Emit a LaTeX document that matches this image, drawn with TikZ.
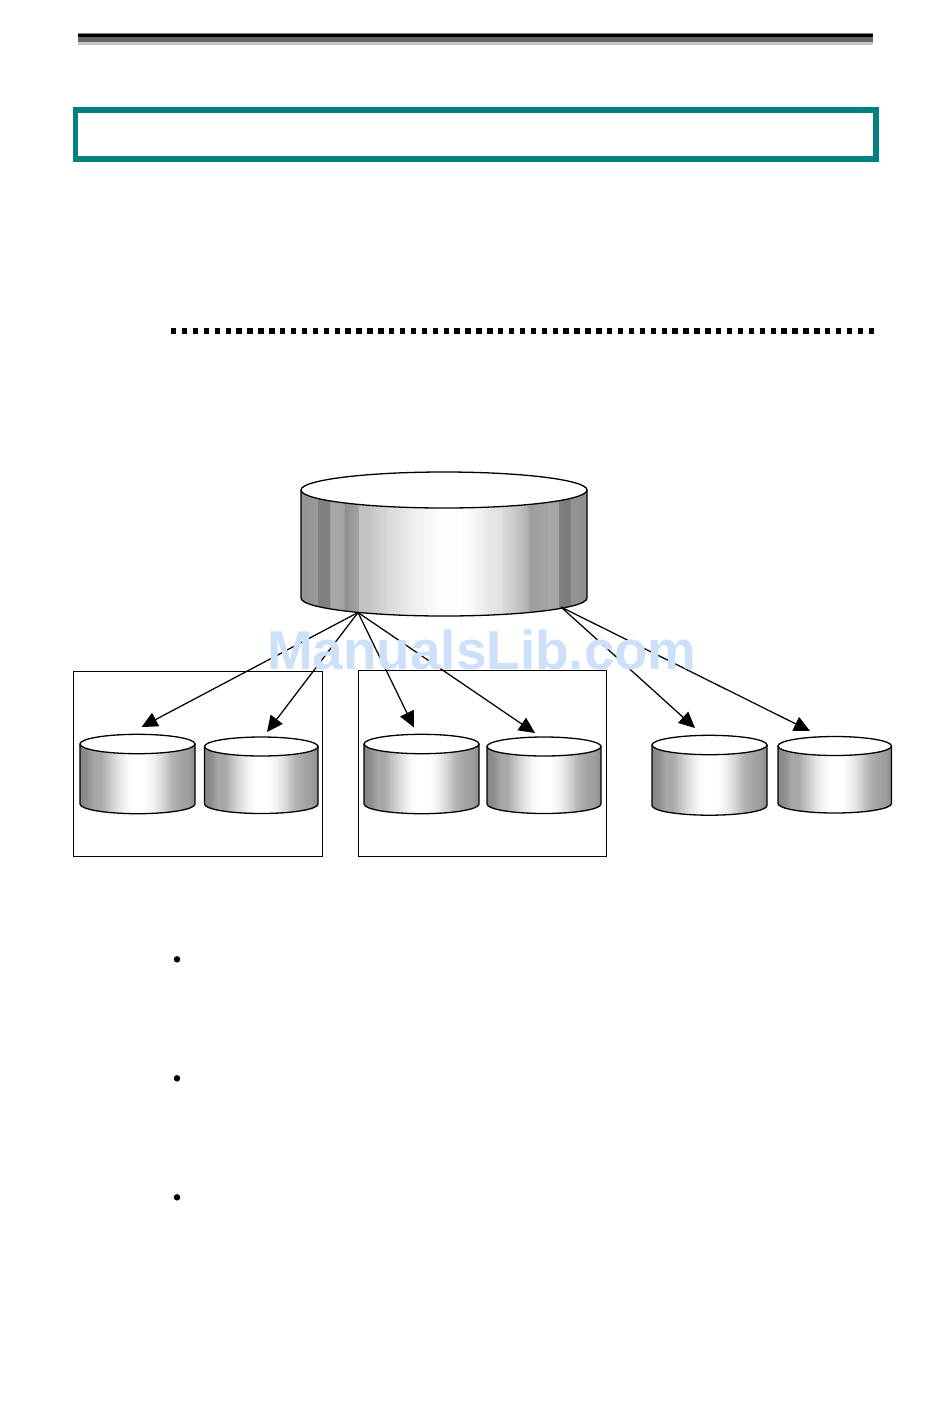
\documentclass[tikz,border=0pt]{standalone}
\usepackage{fontspec}
\setmainfont{Liberation Sans}
\usetikzlibrary{arrows.meta}
\definecolor{tealbox}{HTML}{008080}
\definecolor{wmark}{HTML}{CCE0FA}
\pgfdeclarehorizontalshading{bigband}{100bp}{
 color(0bp)=(black!42); color(25bp)=(black!42); color(27.8bp)=(black!40); color(27.9bp)=(black!50);
 color(30bp)=(black!50); color(30.1bp)=(black!34); color(32.5bp)=(black!36); color(32.6bp)=(black!44);
 color(35bp)=(black!36); color(35.1bp)=(black!24); color(37bp)=(black!24); color(37.1bp)=(black!22);
 color(40bp)=(black!16); color(40.1bp)=(black!14); color(42bp)=(black!12); color(45bp)=(black!6);
 color(49bp)=(black!1); color(53bp)=(black!0); color(55bp)=(black!3); color(58bp)=(black!10);
 color(60bp)=(black!12); color(60.1bp)=(black!14); color(62bp)=(black!20); color(64.5bp)=(black!30);
 color(65bp)=(black!38); color(68bp)=(black!36); color(68.1bp)=(black!34); color(70bp)=(black!36);
 color(70.1bp)=(black!50); color(72bp)=(black!52); color(72.1bp)=(black!42); color(75bp)=(black!44);
 color(100bp)=(black!44)}
\pgfdeclarehorizontalshading{smallband}{100bp}{
 color(0bp)=(black!48); color(25bp)=(black!48); color(28bp)=(black!44); color(31bp)=(black!34);
 color(34bp)=(black!34); color(37bp)=(black!24); color(41bp)=(black!12); color(45bp)=(black!3);
 color(48bp)=(black!0); color(53bp)=(black!0); color(57bp)=(black!6); color(61bp)=(black!16);
 color(65bp)=(black!30); color(69bp)=(black!36); color(72bp)=(black!38); color(75bp)=(black!46);
 color(100bp)=(black!46)}
\tikzset{
 hairbox/.style={draw=black,line width=1pt},
 cylbody/.style={draw=black,line width=1.3pt,line join=round},
 cyltop/.style={draw=black,line width=1.3pt,fill=white},
 link/.style={draw=black,line width=1.25pt,-{Triangle[length=16pt,width=15pt]}},
 bulletdot/.style={circle,fill=black,inner sep=0pt,minimum size=6.5pt},
 wmtext/.style={text=wmark,font=\bfseries\fontsize{54.8}{60}\selectfont,inner sep=0pt,anchor=base}
}
% name, left, right, top-ellipse centre y, side bottom y, ellipse ry, shading
\newcommand{\cylpart}[7]{%
 \pgfmathsetmacro{\crx}{(#3-#2)/2}%
 \pgfmathsetmacro{\ccx}{(#3+#2)/2}%
 \shadedraw[cylbody,shading=#7] (#2,#4) -- (#2,#5) arc[start angle=180,end angle=0,x radius=\crx,y radius=#6] -- (#3,#4) -- cycle;
 \draw[cyltop] (\ccx,#4) ellipse[x radius=\crx,y radius=#6];
 \coordinate (#1) at (\ccx,#4);
}
\begin{document}
\begin{tikzpicture}[x=1pt,y=-1pt]
\useasboundingbox (0,0) rectangle (950,1409);
\fill[white] (0,0) rectangle (950,1409);
% header rule
\fill[black!50] (78,33) rectangle (873,34);
\fill[black] (78,34) rectangle (873,36.5);
\fill[black!60] (78,36.5) rectangle (873,42);
\fill[black!22] (78,42) rectangle (873,45);
% title frame
\draw[tealbox,line width=5.8pt] (75.5,110.2) rectangle (876,158.8);
% dotted rule
\draw[black,line width=6pt,dash pattern=on 5.4pt off 5.5pt] (171,331) -- (875,331);
% group boxes
\draw[hairbox] (73.5,671.5) rectangle (322.5,856);
\draw[hairbox] (358.5,670.5) rectangle (606.5,856);
% cylinders
\cylpart{big}{301}{587}{490}{598}{18}{bigband}
\cylpart{c1}{80}{195}{744}{804}{9.7}{smallband}
\cylpart{c2}{204.5}{318}{746.5}{804}{9.5}{smallband}
\cylpart{c3}{364}{479}{744}{804}{9.7}{smallband}
\cylpart{c4}{487}{601}{746.5}{804}{9.5}{smallband}
\cylpart{c5}{652}{767}{745}{805.5}{9.7}{smallband}
\cylpart{c6}{778}{891.5}{746}{803.5}{9.5}{smallband}
% connectors
\coordinate (srcL) at (358,612.5);
\coordinate (srcR) at (561,607);
\coordinate (t1) at (141.5,727);
\coordinate (t2) at (267,732);
\coordinate (t3) at (414,727.5);
\coordinate (t4) at (535,733);
\coordinate (t5) at (695,728);
\coordinate (t6) at (810,731);
\draw[link] (srcL) -- (t1);
\draw[link] (srcL) -- (t2);
\draw[link] (srcL) -- (t3);
\draw[link] (srcL) -- (t4);
\draw[link] (srcR) -- (t5);
\draw[link] (srcR) -- (t6);
% watermark, printed over the connectors
\node[wmtext] (wm) at (482,669.5) {ManualsLib.com};
% bullets
\node[bulletdot] (b1) at (177,959.3) {};
\node[bulletdot] (b2) at (177,1078.3) {};
\node[bulletdot] (b3) at (177,1197.3) {};
\end{tikzpicture}
\end{document}
